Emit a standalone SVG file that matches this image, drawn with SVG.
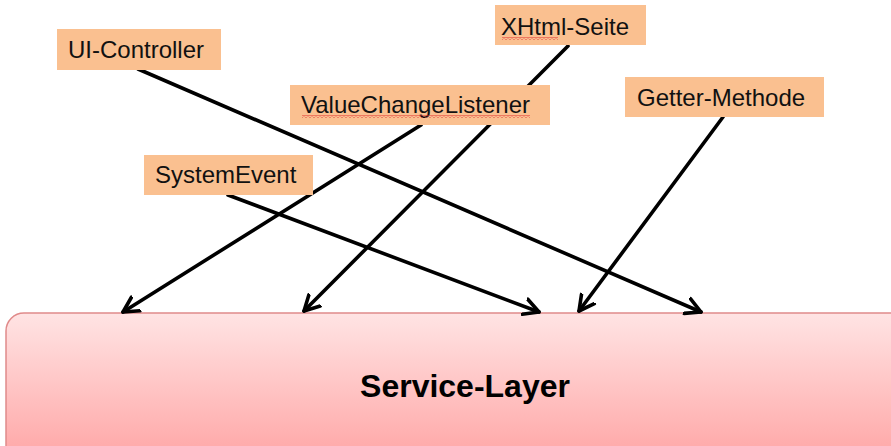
<svg xmlns="http://www.w3.org/2000/svg" width="891" height="446" viewBox="0 0 891 446">
<style>
.lbl{fill:#fac090}
.lt{font-family:"Liberation Sans",Arial,sans-serif;font-size:24px;fill:#111}
.conn{stroke:#000;stroke-width:3.6;fill:none;stroke-linecap:round}
</style>
<defs>
<linearGradient id="g" x1="0" y1="0" x2="0" y2="1">
<stop offset="0" stop-color="#ffe4e4"/>
<stop offset="1" stop-color="#ffa0a0"/>
</linearGradient>
<pattern id="wave" patternUnits="userSpaceOnUse" width="4" height="3">
<path d="M0,2.5 L2,0.5 L4,2.5" fill="none" stroke="#e03030" stroke-width="1"/>
</pattern>
<marker id="ah" markerUnits="userSpaceOnUse" markerWidth="26" markerHeight="26" refX="16" refY="9" orient="auto" viewBox="0 0 26 18">
<path d="M1,1 L16,9 L1,17" fill="none" stroke="#000" stroke-width="3.6" stroke-linecap="round" stroke-linejoin="round"/>
</marker>
</defs>
<g id="service-layer">
<rect x="6" y="313" width="910" height="160" rx="18" fill="url(#g)" stroke="#e08a8a" stroke-width="1.5"/>
<text x="465" y="397" text-anchor="middle" font-family="Liberation Sans,Arial,sans-serif" font-weight="bold" font-size="32" fill="#000">Service-Layer</text>
</g>
<g id="connectors">
<line class="conn" x1="138" y1="69" x2="701" y2="312" marker-end="url(#ah)"/>
<line class="conn" x1="568" y1="46" x2="304" y2="311" marker-end="url(#ah)"/>
<line class="conn" x1="421" y1="125" x2="123" y2="312" marker-end="url(#ah)"/>
<line class="conn" x1="723" y1="117" x2="579" y2="311" marker-end="url(#ah)"/>
<line class="conn" x1="228" y1="195" x2="539" y2="312" marker-end="url(#ah)"/>
</g>
<g id="ui-controller">
<rect class="lbl" x="57" y="29" width="164" height="41"/>
<text class="lt" x="68" y="58">UI-Controller</text>
</g>
<g id="xhtml-seite">
<rect class="lbl" x="495" y="5" width="151" height="40"/>
<text class="lt" x="501" y="35">XHtml-Seite</text>
<rect x="502" y="37" width="56" height="3" fill="url(#wave)"/>
</g>
<g id="value-change-listener">
<rect class="lbl" x="290" y="85" width="260" height="40"/>
<text class="lt" x="301" y="113">ValueChangeListener</text>
<rect x="302" y="115" width="228" height="3" fill="url(#wave)"/>
</g>
<g id="getter-methode">
<rect class="lbl" x="625" y="77" width="199" height="40"/>
<text class="lt" x="637" y="106">Getter-Methode</text>
</g>
<g id="system-event">
<rect class="lbl" x="144" y="155" width="169" height="40"/>
<text class="lt" x="155" y="183">SystemEvent</text>
</g>
</svg>
